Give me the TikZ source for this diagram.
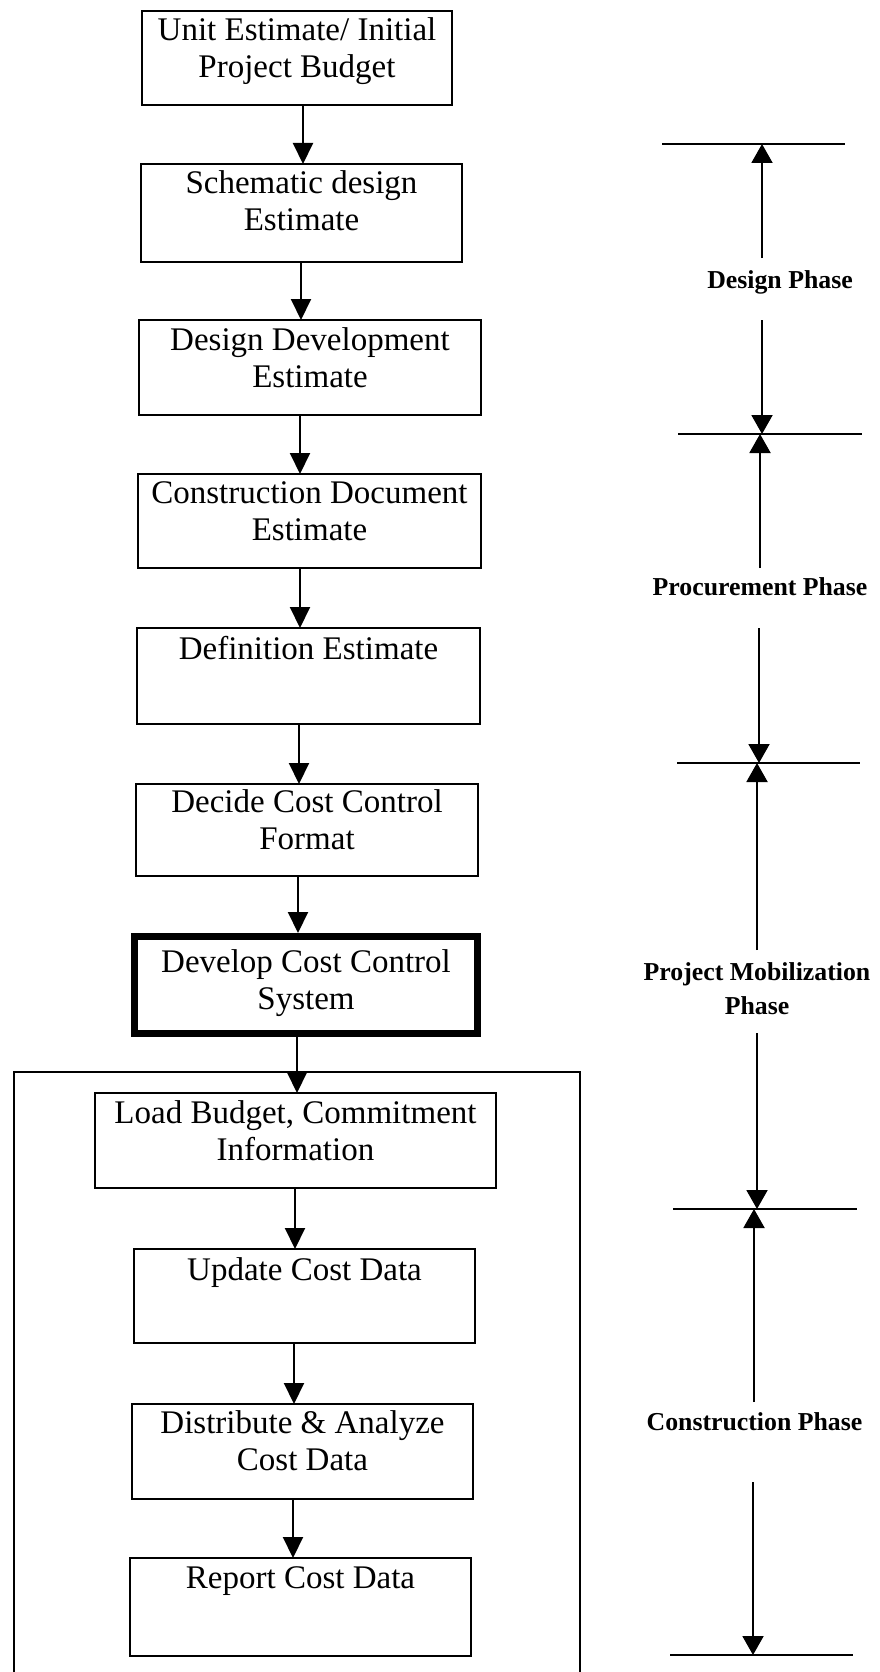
\documentclass[tikz,border=0pt]{standalone}
\usepackage{fontspec}
\setmainfont{Liberation Serif}
\usetikzlibrary{arrows.meta}

% One step of the cost-control flow: frame, then its text hung from the top edge
\newcommand\costbox[7]{%
  \node[stepbox, minimum width=#4pt, minimum height=#5pt] (#1) at (#2,#3) {};
  \node[steptext] (#1-t) at ([yshift=#6pt]#1.north) {\strut #7};
}

\begin{document}
\begin{tikzpicture}[x=1pt,y=-1pt,
  stepbox/.style={draw, rectangle, line width=2pt, inner sep=0pt, outer sep=0pt},
  keybox/.style={draw, rectangle, line width=7pt, inner sep=0pt, outer sep=3.5pt},
  steptext/.style={anchor=north, align=center, inner sep=0pt,
                   font=\fontsize{33}{37}\selectfont},
  flow/.style={line width=2pt, -{Triangle[width=20pt,length=21pt]}},
  phaserule/.style={line width=2pt},
  phasearrow/.style={line width=2pt, -{Triangle[width=21pt,length=19pt]}},
  phaselabel/.style={anchor=base, align=center, inner sep=0pt,
                     font=\bfseries\fontsize{25.8}{34}\selectfont},
  frame/.style={line width=2pt}
]
\useasboundingbox (0,0) rectangle (880,1672);

% ---- estimating steps ----
\costbox{b1}{297}{58}{310}{94}{-3.6}{Unit Estimate/ Initial\\Project Budget}
\costbox{b2}{301.5}{213}{321}{98}{-3.1}{Schematic design\\Estimate}
\costbox{b3}{310}{367.5}{342}{95}{-4.1}{Design Development\\Estimate}
\costbox{b4}{309.5}{521}{343}{94}{-3.1}{Construction Document\\Estimate}
\costbox{b5}{308.5}{676}{343}{96}{-5.1}{Definition Estimate}
\costbox{b6}{307}{830}{342}{92}{-2.1}{Decide Cost Control\\Format}

% the key step, heavy frame
\node[keybox, minimum width=343pt, minimum height=97pt] (b7) at (306,985) {};
\node[steptext] (b7-t) at ([yshift=-13.1pt]b7.north) {\strut Develop Cost Control\\System};

% ---- operating loop inside the open frame ----
\coordinate (fr-bl) at (14,1680);
\coordinate (fr-tl) at (14,1072);
\coordinate (fr-tr) at (580,1072);
\coordinate (fr-br) at (580,1680);
\draw[frame] (fr-bl) -- (fr-tl) -- (fr-tr) -- (fr-br);

\costbox{b8}{295.5}{1140.5}{401}{95}{-4.1}{Load Budget, Commitment\\Information}
\costbox{b9}{304.5}{1296}{341}{94}{-5.1}{Update Cost Data}
\costbox{b10}{302.5}{1451.5}{341}{95}{-3.1}{Distribute \& Analyze\\Cost Data}
\costbox{b11}{300.5}{1607}{341}{98}{-4.1}{Report Cost Data}

% ---- connectors ----
\draw[flow] ([xshift=6pt]b1.south)    -- ([xshift=6pt]b1.south |- b2.north);
\draw[flow] ([xshift=-0.5pt]b2.south) -- ([xshift=-0.5pt]b2.south |- b3.north);
\draw[flow] ([xshift=-10pt]b3.south)  -- ([xshift=-10pt]b3.south |- b4.north);
\draw[flow] ([xshift=-9.5pt]b4.south) -- ([xshift=-9.5pt]b4.south |- b5.north);
\draw[flow] ([xshift=-9.5pt]b5.south) -- ([xshift=-9.5pt]b5.south |- b6.north);
\draw[flow] ([xshift=-9pt]b6.south)   -- ([xshift=-9pt]b6.south |- b7.north);
\draw[flow] ([xshift=-9pt]b7.south)   -- ([xshift=-9pt]b7.south |- b8.north);
\draw[flow] ([xshift=-0.5pt]b8.south) -- ([xshift=-0.5pt]b8.south |- b9.north);
\draw[flow] ([xshift=-10.5pt]b9.south) -- ([xshift=-10.5pt]b9.south |- b10.north);
\draw[flow] ([xshift=-9.5pt]b10.south) -- ([xshift=-9.5pt]b10.south |- b11.north);

% ---- phase scale ----
\coordinate (ra-w) at (662,144);  \coordinate (ra-e) at (845,144);
\coordinate (rb-w) at (678,434);  \coordinate (rb-e) at (862,434);
\coordinate (rc-w) at (677,763);  \coordinate (rc-e) at (860,763);
\coordinate (rd-w) at (673,1209); \coordinate (rd-e) at (857,1209);
\coordinate (re-w) at (670,1655); \coordinate (re-e) at (853,1655);
\foreach \r in {ra,rb,rc,rd,re} \draw[phaserule] (\r-w) -- (\r-e);

\node[phaselabel] (pdesign) at (780,288) {Design Phase};
\node[phaselabel] (pproc) at (760,595) {Procurement Phase};
\node[phaselabel, anchor=north] (pmob) at (757,956.5) {\strut Project Mobilization\\Phase};
\node[phaselabel] (pcons) at (754.5,1430) {Construction Phase};

% design phase span
\coordinate (da-s) at (762,258);  \coordinate (da-t) at (762,144);
\coordinate (db-s) at (762,320);  \coordinate (db-t) at (762,434);
% procurement phase span
\coordinate (pa-s) at (760,568);  \coordinate (pa-t) at (760,434);
\coordinate (pb-s) at (759,628);  \coordinate (pb-t) at (759,763);
% mobilization phase span
\coordinate (ma-s) at (757,950);  \coordinate (ma-t) at (757,763);
\coordinate (mb-s) at (757,1033); \coordinate (mb-t) at (757,1209);
% construction phase span
\coordinate (ca-s) at (754,1402); \coordinate (ca-t) at (754,1209);
\coordinate (cb-s) at (753,1482); \coordinate (cb-t) at (753,1655);
\foreach \a in {da,db,pa,pb,ma,mb,ca,cb} \draw[phasearrow] (\a-s) -- (\a-t);
\end{tikzpicture}
\end{document}
